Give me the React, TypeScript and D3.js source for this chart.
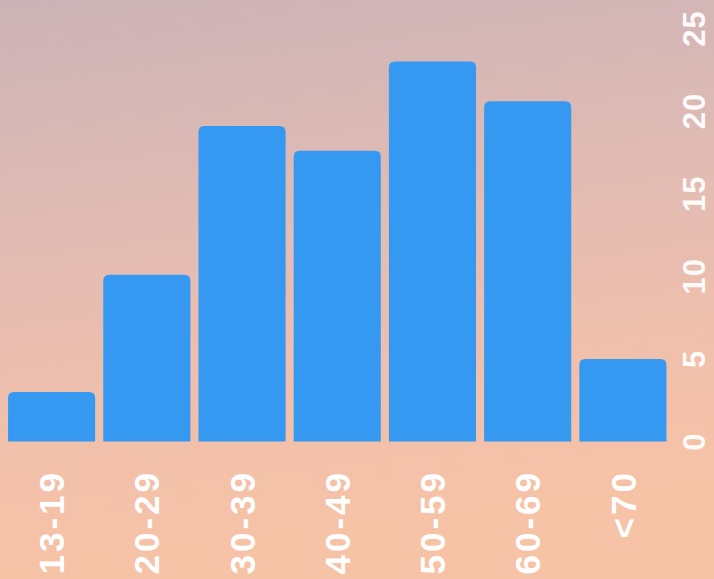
import React from "react";
import * as d3 from "d3";

const categories = ["13-19", "20-29", "30-39", "40-49", "50-59", "60-69", "<70"];
const values = [3.0, 10.1, 19.1, 17.6, 23.0, 20.6, 5.0];
const yTicks = [0, 5, 10, 15, 20, 25];

const W = 714;
const H = 579;

function topRoundedRect(x: number, y: number, w: number, h: number, r: number) {
  const rr = Math.min(r, h, w / 2);
  return `M${x},${y + h}V${y + rr}Q${x},${y} ${x + rr},${y}H${x + w - rr}Q${x + w},${y} ${x + w},${y + rr}V${y + h}Z`;
}

export default function App() {
  const x = d3.scaleBand<string>().domain(categories).range([4, 670.5]).paddingInner(0.085).paddingOuter(0.0425);
  const y = d3.scaleLinear().domain([0, 25]).range([441.5, 28.5]);
  const font = "'Liberation Sans', Arial, Helvetica, sans-serif";

  return (
    <svg width={W} height={H} style={{ position: "fixed", left: 0, top: 0, display: "block" }}>
      <defs>
        <linearGradient id="bg" x1="0" y1="0" x2="0.15" y2="1">
          <stop offset="0" stopColor="#cbb3b7" />
          <stop offset="0.45" stopColor="#e3bcb3" />
          <stop offset="0.75" stopColor="#f1c0ab" />
          <stop offset="1" stopColor="#f7c3a6" />
        </linearGradient>
      </defs>
      <rect x={0} y={0} width={W} height={H} fill="url(#bg)" />
      {categories.map((c, i) => (
        <path
          key={c}
          d={topRoundedRect(x(c)!, y(values[i]), x.bandwidth(), y(0) - y(values[i]), 6)}
          fill="#3699f1"
        />
      ))}
      {categories.map((c) => {
        const cx = x(c)! + x.bandwidth() / 2;
        return (
          <text
            key={"l" + c}
            transform={`translate(${cx},470) rotate(-90)`}
            textAnchor="end"
            dy="0.36em"
            fill="#ffffff"
            fontFamily={font}
            fontWeight="bold"
            fontSize={35}
            letterSpacing={3}
          >
            {c}
          </text>
        );
      })}
      {yTicks.map((t) => (
        <text
          key={"t" + t}
          transform={`translate(694,${y(t)}) rotate(-90)`}
          textAnchor="middle"
          dy="0.36em"
          fill="#ffffff"
          fillOpacity={0.95}
          fontFamily={font}
          fontWeight="bold"
          fontSize={31}
          letterSpacing={1}
        >
          {t}
        </text>
      ))}
    </svg>
  );
}
